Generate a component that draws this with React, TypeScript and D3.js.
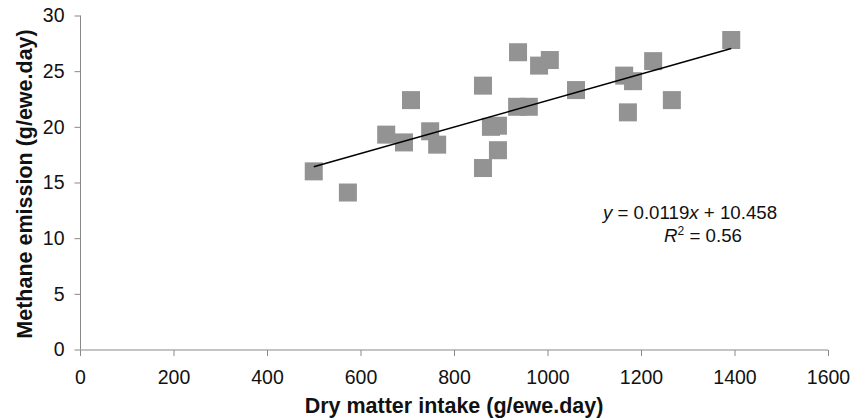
import * as d3 from 'd3';
import React, { useEffect, useRef } from 'react';

// dry matter intake (g/ewe.day)
const intake = [500, 573, 655, 693, 708, 749, 764, 862, 862, 879, 894, 894, 937, 935, 960, 982, 1005, 1061, 1164, 1183, 1226, 1172, 1266, 1393];
// methane emission (g/ewe.day)
const methane = [16.0, 14.1, 19.3, 18.6, 22.4, 19.6, 18.4, 23.7, 16.3, 20.0, 20.1, 17.9, 26.7, 21.8, 21.8, 25.5, 26.0, 23.3, 24.6, 24.1, 25.9, 21.3, 22.4, 27.8];
const xTicks = [0, 200, 400, 600, 800, 1000, 1200, 1400, 1600];
const yTicks = [0, 5, 10, 15, 20, 25, 30];
const slope = 0.0119;
const intercept = 10.458;
const r2 = 0.56;

const App = () => {
    const svgRef = useRef<SVGSVGElement>(null);

    useEffect(() => {
        const svg = d3.select(svgRef.current);
        svg.selectAll('*').remove();

        const font = '"Liberation Sans", Arial, sans-serif';
        const axisColor = '#898989';

        const x = d3.scaleLinear().domain([0, 1600]).range([80, 828]);
        const y = d3.scaleLinear().domain([0, 30]).range([349.5, 15.5]);

        const yAxis = svg.append('g')
            .attr('transform', 'translate(80.5,0)')
            .call(d3.axisLeft(y).tickValues(yTicks).tickSize(6).tickPadding(10).tickFormat(d3.format('d')));
        const xAxis = svg.append('g')
            .attr('transform', `translate(0,${y(0) + 0.5})`)
            .call(d3.axisBottom(x).tickValues(xTicks).tickSize(6).tickPadding(14).tickFormat(d3.format('d')));

        // plain axis lines, no end caps
        yAxis.select('.domain').attr('stroke', axisColor).attr('d', `M0,${y(30)}V${y(0)}`);
        xAxis.select('.domain').attr('stroke', axisColor).attr('d', `M${x(0)},0H${x(1600)}`);
        [yAxis, xAxis].forEach(a => {
            a.selectAll('.tick line').attr('stroke', axisColor);
            a.selectAll('.tick text')
                .attr('fill', '#111')
                .style('font-family', font)
                .style('font-size', '19.5px');
        });

        // points
        const pts = intake.map((v, i) => [v, methane[i]]);
        svg.append('g')
            .selectAll('rect')
            .data(pts)
            .join('rect')
            .attr('x', d => x(d[0]) - 9)
            .attr('y', d => y(d[1]) - 9)
            .attr('width', 18)
            .attr('height', 18)
            .attr('fill', '#939393');

        // linear trendline over the data range
        const [x0, x1] = d3.extent(intake) as [number, number];
        svg.append('line')
            .attr('x1', x(x0))
            .attr('y1', y(slope * x0 + intercept))
            .attr('x2', x(x1))
            .attr('y2', y(slope * x1 + intercept))
            .attr('stroke', '#000')
            .attr('stroke-width', 1.5);

        // equation
        const eq = svg.append('text')
            .attr('x', 690)
            .attr('y', 219)
            .attr('text-anchor', 'middle')
            .style('font-family', font)
            .style('font-size', '18.7px')
            .attr('fill', '#111');
        eq.append('tspan').style('font-style', 'italic').text('y');
        eq.append('tspan').text(` = ${slope}`);
        eq.append('tspan').style('font-style', 'italic').text('x');
        eq.append('tspan').text(` + ${intercept}`);

        const rt = svg.append('text')
            .attr('x', 703)
            .attr('y', 242)
            .attr('text-anchor', 'middle')
            .style('font-family', font)
            .style('font-size', '18.7px')
            .attr('fill', '#111');
        rt.append('tspan').style('font-style', 'italic').text('R');
        rt.append('tspan').attr('dy', -7).style('font-size', '12px').text('2');
        rt.append('tspan').attr('dy', 7).text(` = ${r2}`);

        // axis titles
        svg.append('text')
            .attr('x', 454)
            .attr('y', 413)
            .attr('text-anchor', 'middle')
            .style('font-family', font)
            .style('font-size', '21.5px')
            .style('font-weight', 'bold')
            .attr('fill', '#111')
            .text('Dry matter intake (g/ewe.day)');

        svg.append('text')
            .attr('transform', 'translate(32,184) rotate(-90)')
            .attr('text-anchor', 'middle')
            .style('font-family', font)
            .style('font-size', '21.5px')
            .style('font-weight', 'bold')
            .attr('fill', '#111')
            .text('Methane emission (g/ewe.day)');
    }, []);

    return (
        <svg ref={svgRef} width={853} height={420}
            style={{ position: 'absolute', left: 0, top: 0, background: '#fff' }}></svg>
    );
};

export default App;
